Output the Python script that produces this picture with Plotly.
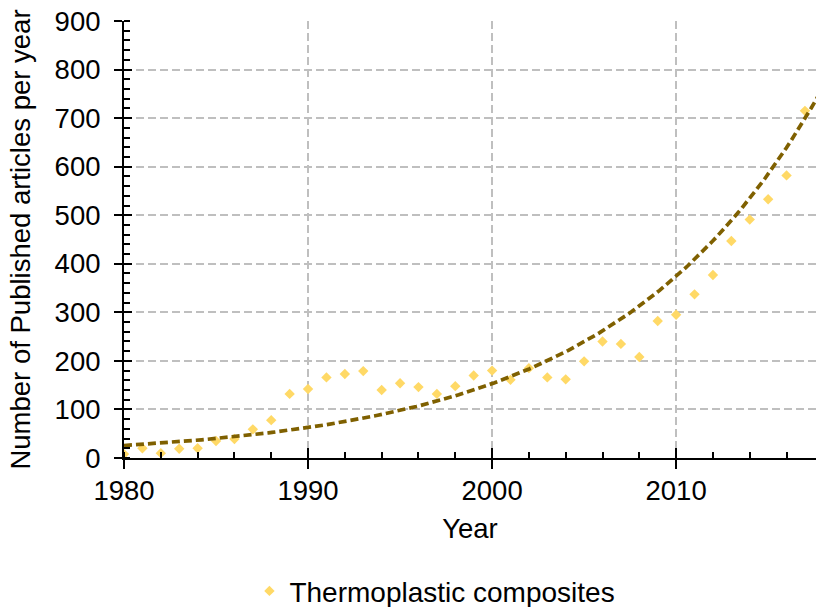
import numpy as np
import plotly.graph_objects as go

# Publications per year on thermoplastic composites
years = list(range(1980, 2018))
articles = [8, 20, 10, 19, 20, 35, 39, 59, 78, 132,
            142, 166, 173, 179, 140, 154, 146, 132, 148, 170,
            180, 161, 185, 166, 162, 199, 240, 235, 208, 282,
            295, 337, 377, 447, 491, 533, 582, 715]

x_ticks = [1980, 1990, 2000, 2010]
y_ticks = [0, 100, 200, 300, 400, 500, 600, 700, 800, 900]

X_RANGE = [1980, 2017.6]
Y_RANGE = [0, 900]

# Exponential trendline: least-squares fit of ln(y) against year
b, ln_a = np.polyfit(np.array(years) - years[0], np.log(articles), 1)
trend_x = np.linspace(X_RANGE[0], X_RANGE[1] + 0.5, 200)
trend_y = np.exp(ln_a + b * (trend_x - years[0]))

FONT = "Liberation Sans, Arial, sans-serif"
GRID = "#BFBFBF"

fig = go.Figure()
fig.add_trace(go.Scatter(
    x=years, y=articles, mode="markers", name="Thermoplastic composites",
    marker=dict(symbol="diamond", size=8, color="#FFD966", line=dict(width=0)),
))
fig.add_trace(go.Scatter(
    x=trend_x, y=trend_y, mode="lines", showlegend=False, hoverinfo="skip",
    line=dict(color="#7F6000", width=3.7, dash="8px,4px"),
))
# invisible trace that carries the overlay axes (inner half of crossing ticks)
fig.add_trace(go.Scatter(x=[X_RANGE[0]], y=[Y_RANGE[0]], xaxis="x2", yaxis="y2",
                         mode="markers", marker=dict(opacity=0), showlegend=False,
                         hoverinfo="skip"))

tick_font = dict(family=FONT, size=27.5, color="#000000")
title_font = dict(family=FONT, size=27.5, color="#000000")

fig.update_layout(
    width=816, height=607,
    margin=dict(l=124, r=0, t=21, b=149),
    paper_bgcolor="white", plot_bgcolor="white",
    font=dict(family=FONT, color="#000000"),
    xaxis=dict(
        range=X_RANGE, tickvals=x_ticks, ticktext=[str(v) for v in x_ticks],
        ticks="outside", ticklen=9, tickwidth=2, tickcolor="black",
        showline=True, linecolor="black", linewidth=2,
        showgrid=True, gridcolor=GRID, gridwidth=1.6, griddash="8px,4px",
        zeroline=False, tickfont=tick_font, ticklabelstandoff=-2,
        minor=dict(dtick=2, tick0=1980, ticks="inside", ticklen=6,
                   tickwidth=2, tickcolor="black", showgrid=False),
        title=dict(text="Year", font=title_font, standoff=14),
        automargin=False,
    ),
    yaxis=dict(
        range=Y_RANGE, tickvals=y_ticks, ticktext=[str(v) for v in y_ticks],
        ticks="outside", ticklen=8, tickwidth=2, tickcolor="black",
        showline=True, linecolor="black", linewidth=2,
        showgrid=True, gridcolor=GRID, gridwidth=1.6, griddash="8px,4px",
        zeroline=False, tickfont=tick_font, ticklabelstandoff=8,
        minor=dict(dtick=20, tick0=0, ticks="inside", ticklen=6,
                   tickwidth=2, tickcolor="black", showgrid=False),
        title=dict(text="Number of Published articles per year", font=title_font,
                   standoff=16),
        automargin=False,
    ),
    xaxis2=dict(
        overlaying="x", range=X_RANGE, tickvals=x_ticks, ticks="inside",
        ticklen=10, tickwidth=2, tickcolor="black", showticklabels=False,
        showgrid=False, zeroline=False, showline=False,
    ),
    yaxis2=dict(
        overlaying="y", range=Y_RANGE, tickvals=y_ticks, ticks="inside",
        ticklen=8, tickwidth=2, tickcolor="black", showticklabels=False,
        showgrid=False, zeroline=False, showline=False,
    ),
    showlegend=True,
    legend=dict(
        orientation="h", xref="container", yref="container",
        x=0.533, xanchor="center", y=0.026, yanchor="middle",
        font=dict(family=FONT, size=28, color="#000000"),
        bgcolor="rgba(0,0,0,0)",
    ),
)

fig.write_html("out.html")
